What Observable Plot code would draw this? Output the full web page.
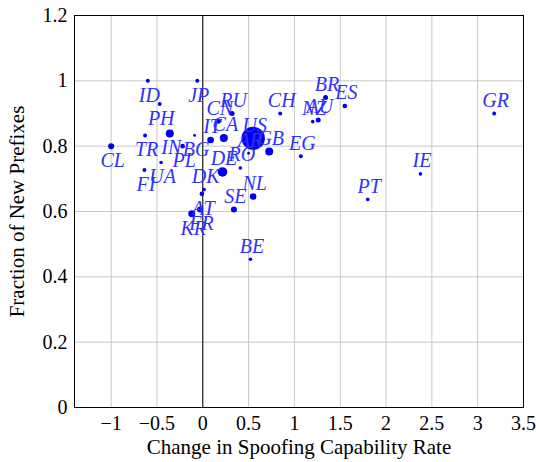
<!DOCTYPE html>
<html><head><meta charset="utf-8">
<script src="https://cdn.jsdelivr.net/npm/d3@7"></script>
<script src="https://cdn.jsdelivr.net/npm/@observablehq/plot@0.6"></script>
<style>
body{margin:0;background:#fff}
#chart svg, #chart svg text{font-family:"Liberation Serif","Times New Roman","DejaVu Serif",serif !important;}
</style>
</head><body><div id="chart"></div>
<script>
const countries   = ["ID","JP","PH","RU","CH","GR","BR","ES","NZ","AU","CN","TR","IN","BG","IT","CA","US","GB","AR","CL","PL","EG","UA","FI","RO","DE","DK","AT","NL","SE","FR","KR","IE","PT","BE"];
const spoofChange = [-0.60,-0.06,-0.47,0.32,0.845,3.18,1.34,1.55,1.20,1.26,0.17,-0.63,-0.36,-0.09,0.085,0.23,0.55,0.725,0.50,-1.00,-0.22,1.07,-0.455,-0.637,0.41,0.215,0.015,-0.01,0.55,0.34,-0.03,-0.12,2.375,1.80,0.52];
const newFraction = [1.00,1.00,0.929,0.90,0.90,0.90,0.949,0.923,0.875,0.88,0.876,0.833,0.839,0.833,0.819,0.825,0.824,0.784,0.778,0.80,0.80,0.769,0.75,0.727,0.733,0.721,0.667,0.654,0.646,0.606,0.606,0.593,0.715,0.637,0.454];
const weight      = [29,29,29,46,29,29,46,39,24,46,46,29,117,16,80,117,1000,117,16,66,39,29,24,29,24,168,24,39,80,66,66,89,24,24,24];
const labelBelow  = ["ID","JP","PH","TR","IN","BG","CL","PL","UA","FI","AT","FR","KR"];
const xTicks = [-1,-0.5,0,0.5,1,1.5,2,2.5,3,3.5];
const yTicks = [0,0.2,0.4,0.6,0.8,1,1.2];
const xTitle = "Change in Spoofing Capability Rate";
const yTitle = "Fraction of New Prefixes";

const data = countries.map((c,i)=>({country:c, x:spoofChange[i], y:newFraction[i], w:weight[i], below:labelBelow.includes(c)}));
const fmt = d => (d < 0 ? "\u2212" : "") + Math.abs(d);
const labelOpts = {x:"x", y:"y", text:"country", fill:"#3030ff", fontStyle:"italic", fontSize:20, dx:1.5, ariaLabel:"labels"};

const chart = Plot.plot({
  width:536, height:462, marginLeft:74, marginRight:13, marginTop:15, marginBottom:55,
  style:{fontFamily:"Liberation Serif", fontSize:"20px", background:"white", color:"black"},
  x:{domain:[-1.4,3.5]}, y:{domain:[0,1.2]},
  r:{type:"sqrt", domain:[0,1000], range:[0,11.7]},
  marks:[
    Plot.gridX(xTicks,{stroke:"#c8c8c8", strokeOpacity:1}),
    Plot.gridY(yTicks,{stroke:"#c8c8c8", strokeOpacity:1}),
    Plot.ruleX([0],{stroke:"black"}),
    Plot.axisX(xTicks,{tickSize:0, tickPadding:8, tickFormat:fmt, label:null}),
    Plot.axisY(yTicks,{tickSize:0, tickPadding:7, tickFormat:fmt, label:null}),
    Plot.dot(data,{x:"x", y:"y", r:"w", fill:"#0000f0", stroke:null}),
    Plot.text(data.filter(d=>!d.below),{...labelOpts, dy:-13}),
    Plot.text(data.filter(d=>d.below),{...labelOpts, dy:14.5}),
    Plot.frame({stroke:"black"}),
    Plot.text([xTitle],{frameAnchor:"bottom", dy:39.5, lineAnchor:"middle", textAnchor:"middle", text:d=>d, fontSize:21}),
    Plot.text([yTitle],{frameAnchor:"left", dx:-57, rotate:-90, lineAnchor:"middle", textAnchor:"middle", text:d=>d, fontSize:21})
  ]
});
chart.querySelectorAll('g[aria-label="labels"] text').forEach(t=>t.setAttribute("letter-spacing","3"));
document.getElementById("chart").appendChild(chart);
</script>
</body></html>
